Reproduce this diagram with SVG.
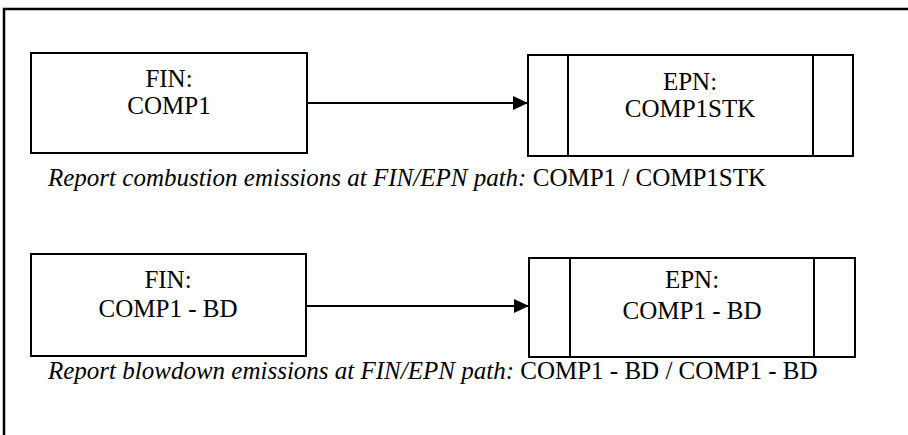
<svg xmlns="http://www.w3.org/2000/svg" width="908" height="435" viewBox="0 0 908 435">
<style>
.box{fill:#fff;stroke:#000;stroke-width:2}
.div{stroke:#000;stroke-width:2}
text{font-family:'Liberation Serif','Times New Roman',Times,Tinos,'Noto Serif','DejaVu Serif',FreeSerif,serif;fill:#000}
.lbl{font-size:25px;text-anchor:middle}
.cap{font-size:25px}
.it{font-style:italic}
.con{stroke:#000;stroke-width:2;fill:none}
</style>
<defs>
<marker id="ah" markerUnits="userSpaceOnUse" markerWidth="16" markerHeight="14" refX="15" refY="7" orient="auto">
<path d="M0,0 L15,7 L0,14 Z" fill="#000"/>
</marker>
</defs>
<rect width="908" height="435" fill="#fff"/>
<path d="M4,435 V9 H908" stroke="#000" stroke-width="2.5" fill="none"/>
<g id="connectors">
<line class="con" x1="307" y1="103" x2="528" y2="103" marker-end="url(#ah)"/>
<line class="con" x1="306" y1="306" x2="529" y2="306" marker-end="url(#ah)"/>
</g>
<g id="fin1">
<rect class="box" x="31" y="53" width="276" height="100"/>
<text class="lbl" x="169" y="87" font-family="Liberation Serif, serif">FIN:</text>
<text class="lbl" x="169" y="114" font-family="Liberation Serif, serif">COMP1</text>
</g>
<g id="epn1">
<rect class="box" x="528" y="55" width="325" height="101"/>
<line class="div" x1="568" y1="55" x2="568" y2="156"/>
<line class="div" x1="813" y1="55" x2="813" y2="156"/>
<text class="lbl" x="690" y="90" font-family="Liberation Serif, serif">EPN:</text>
<text class="lbl" x="690" y="117" font-family="Liberation Serif, serif">COMP1STK</text>
</g>
<g id="cap1">
<text class="cap" x="48" y="186" font-family="Liberation Serif, serif"><tspan class="it">Report combustion emissions at FIN/EPN path:</tspan> COMP1 / COMP1STK</text>
</g>
<g id="fin2">
<rect class="box" x="31" y="254" width="275" height="102"/>
<text class="lbl" x="168" y="288" font-family="Liberation Serif, serif">FIN:</text>
<text class="lbl" x="168" y="317" font-family="Liberation Serif, serif">COMP1 - BD</text>
</g>
<g id="epn2">
<rect class="box" x="529" y="258" width="326" height="99"/>
<line class="div" x1="570" y1="258" x2="570" y2="357"/>
<line class="div" x1="814" y1="258" x2="814" y2="357"/>
<text class="lbl" x="692" y="288" font-family="Liberation Serif, serif">EPN:</text>
<text class="lbl" x="692" y="319" font-family="Liberation Serif, serif">COMP1 - BD</text>
</g>
<g id="cap2">
<text class="cap" x="48" y="379" font-family="Liberation Serif, serif"><tspan class="it">Report blowdown emissions at FIN/EPN path:</tspan> COMP1 - BD / COMP1 - BD</text>
</g>
</svg>
